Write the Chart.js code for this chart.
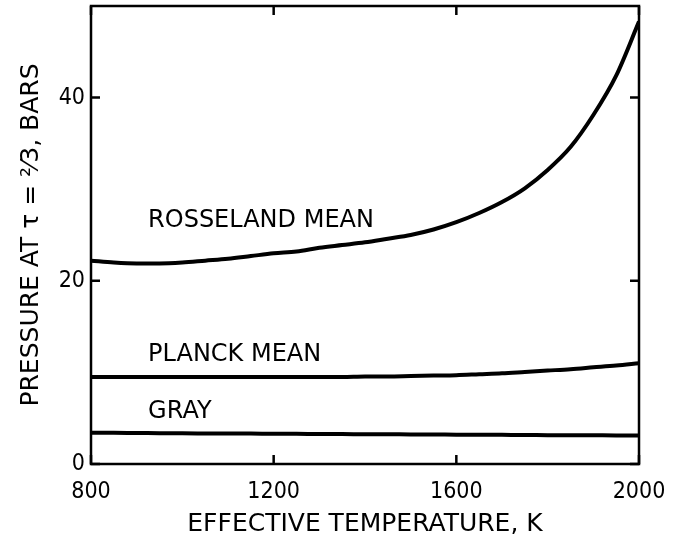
<!DOCTYPE html>
<html lang="en">
<head>
  <meta charset="UTF-8">
  <title>Pressure at tau = 2/3 vs effective temperature</title>
  <style>
    body { margin: 0; background: #fff; }
    #wrap { width: 678px; height: 539px; position: relative; }
  </style>
</head>
<body>
<div id="wrap"><canvas id="chart"></canvas></div>

<script src="https://cdn.jsdelivr.net/npm/chart.js@4/dist/chart.umd.min.js"></script>
<script>
// data (K, bars)
const temps = [800, 850, 900, 950, 1000, 1050, 1100, 1150, 1200, 1250, 1300, 1350, 1400,
               1450, 1500, 1550, 1600, 1650, 1700, 1750, 1800, 1850, 1900, 1950, 2000];
const rosseland = [22.2, 22.0, 21.9, 21.9, 22.0, 22.2, 22.4, 22.7, 23.0, 23.2, 23.6, 23.9, 24.2,
                   24.6, 25.0, 25.6, 26.4, 27.4, 28.6, 30.1, 32.1, 34.6, 38.1, 42.4, 48.3];
const planck = [9.5, 9.5, 9.5, 9.5, 9.5, 9.5, 9.5, 9.5, 9.5, 9.5, 9.5, 9.5, 9.55,
                9.55, 9.6, 9.65, 9.7, 9.8, 9.9, 10.05, 10.2, 10.35, 10.55, 10.75, 11.0];
const gray = [3.4, 3.4, 3.38, 3.37, 3.35, 3.34, 3.33, 3.32, 3.3, 3.29, 3.28, 3.27, 3.25,
              3.24, 3.23, 3.22, 3.2, 3.19, 3.18, 3.17, 3.15, 3.14, 3.13, 3.12, 3.1];
const seriesNames = ['ROSSELAND MEAN', 'PLANCK MEAN', 'GRAY'];
const xTicks = [800, 1200, 1600, 2000];
const yTicks = [0, 20, 40];

// where the curve names sit, in data units
const nameAt = [[925, 26.5], [925, 11.9], [925, 5.7]];

const COND = "'DejaVu Sans Condensed', 'DejaVu Sans', sans-serif";
const WIDE = "'DejaVu Sans', sans-serif";

function pts(ys) { return temps.map((t, i) => ({ x: t, y: ys[i] })); }

const frame = {
  id: 'frame',
  afterDatasetsDraw(chart) {
    const { ctx, chartArea: a, scales: { x, y } } = chart;
    ctx.save();
    ctx.strokeStyle = '#000';
    ctx.lineWidth = 2.5;
    ctx.strokeRect(a.left, a.top, a.right - a.left, a.bottom - a.top);
    // inward ticks on all four sides
    const len = 9;
    ctx.beginPath();
    xTicks.forEach(v => {
      const px = x.getPixelForValue(v);
      ctx.moveTo(px, a.bottom); ctx.lineTo(px, a.bottom - len);
      ctx.moveTo(px, a.top); ctx.lineTo(px, a.top + len);
    });
    yTicks.forEach(v => {
      const py = y.getPixelForValue(v);
      ctx.moveTo(a.left, py); ctx.lineTo(a.left + len, py);
      ctx.moveTo(a.right, py); ctx.lineTo(a.right - len, py);
    });
    ctx.stroke();
    // curve names
    ctx.fillStyle = '#000';
    ctx.font = '24px ' + WIDE;
    ctx.textBaseline = 'middle';
    ctx.textAlign = 'left';
    seriesNames.forEach((n, i) => {
      ctx.fillText(n, x.getPixelForValue(nameAt[i][0]), y.getPixelForValue(nameAt[i][1]));
    });
    ctx.restore();
  }
};

const line = { borderColor: '#000', borderWidth: 4, pointRadius: 0, fill: false,
               cubicInterpolationMode: 'monotone' };

new Chart(document.getElementById('chart'), {
  type: 'line',
  data: {
    datasets: [
      Object.assign({ label: seriesNames[0], data: pts(rosseland) }, line),
      Object.assign({ label: seriesNames[1], data: pts(planck) }, line),
      Object.assign({ label: seriesNames[2], data: pts(gray) }, line)
    ]
  },
  options: {
    responsive: true,
    maintainAspectRatio: false,
    animation: false,
    layout: { padding: { left: 0, right: 39, top: 6, bottom: 0 } },
    plugins: { legend: { display: false }, tooltip: { enabled: false } },
    scales: {
      x: {
        type: 'linear', min: 800, max: 2000,
        afterBuildTicks(s) { s.ticks = xTicks.map(v => ({ value: v })); },
        afterFit(s) { s.height = 75; s.paddingLeft = 0; s.paddingRight = 0; },
        grid: { display: false, drawTicks: false },
        border: { display: false },
        ticks: { color: '#000', padding: 14, maxRotation: 0, font: { family: COND, size: 23 },
                 callback: v => String(v) },
        title: { display: true, text: 'EFFECTIVE TEMPERATURE, K', color: '#000',
                 padding: { top: 5, bottom: 0 }, font: { family: WIDE, size: 25 } }
      },
      y: {
        min: 0, max: 50,
        afterBuildTicks(s) { s.ticks = yTicks.map(v => ({ value: v })); },
        afterFit(s) { s.width = 91; s.paddingTop = 0; s.paddingBottom = 0; },
        grid: { display: false, drawTicks: false },
        border: { display: false },
        ticks: { color: '#000', padding: 6, font: { family: COND, size: 23 },
                 callback: v => String(v) },
        title: { display: true, text: 'PRESSURE AT \u03C4 = \u00B2\u20443, BARS', color: '#000',
                 padding: { top: 16, bottom: 10 }, font: { family: WIDE, size: 25 } }
      }
    }
  },
  plugins: [frame]
});
</script>
</body>
</html>
